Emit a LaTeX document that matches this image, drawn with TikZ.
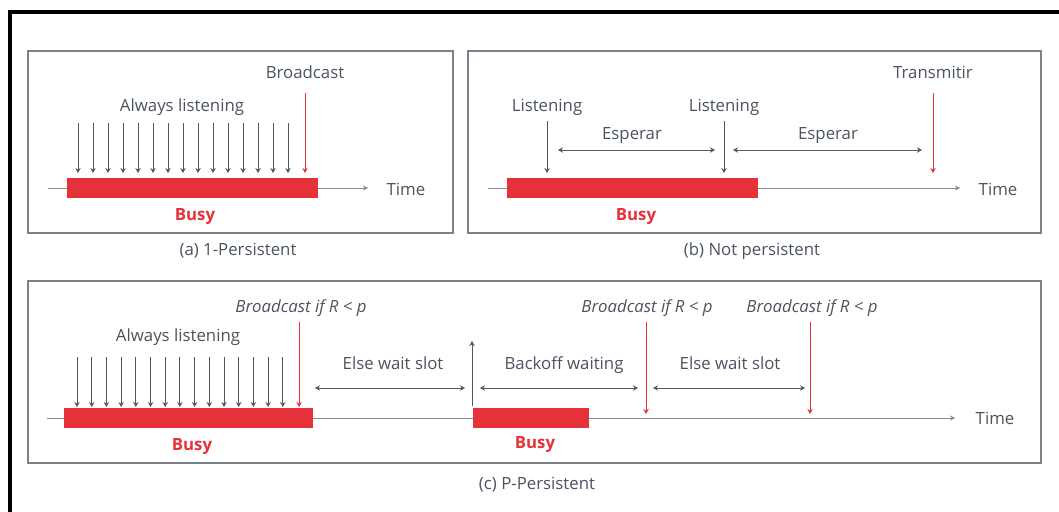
\documentclass[tikz,border=0pt]{standalone}
\usepackage{fontspec}
\setmainfont{Open Sans}
\usetikzlibrary{arrows.meta}
\definecolor{cred}{HTML}{E5323A}
\definecolor{ctext}{HTML}{4A535E}
\definecolor{cbox}{HTML}{7B828B}
\definecolor{carrow}{HTML}{4E5966}
\definecolor{cline}{HTML}{858D96}
\begin{document}
\begin{tikzpicture}[x=1pt,y=-1pt,
  lbl/.style={font=\fontsize{16.8}{20}\selectfont, text=ctext, inner sep=0pt, text height=12pt, text depth=0pt},
  ilbl/.style={lbl, font=\fontsize{16.8}{20}\selectfont\itshape},
  busy/.style={lbl, font=\fontsize{16.8}{20}\selectfont\bfseries, text=cred},
  panelbox/.style={draw=cbox, line width=1.3pt, inner sep=0pt},
  bar/.style={fill=cred, inner sep=0pt, minimum height=20pt},
  tl/.style={draw=cline, line width=1pt, -{Stealth[length=5pt,width=5pt]}},
  garrow/.style={draw=carrow, line width=0.9pt, -{Stealth[length=5pt,width=5.5pt]}},
  rarrow/.style={draw=cred, line width=0.9pt, -{Stealth[length=5pt,width=5.5pt]}},
  darrow/.style={draw=carrow, line width=0.9pt, {Stealth[length=5pt,width=5.5pt]}-{Stealth[length=5pt,width=5.5pt]}}
]
\useasboundingbox (0,0) rectangle (1059,511);
% outer black frame
\coordinate (f0) at (10,530);
\coordinate (f1) at (10,12);
\coordinate (f2) at (1080,12);
\draw[line width=4pt, black] (f0) -- (f1) -- (f2);

% ---------------- panel (a)
\node[panelbox, minimum width=425pt, minimum height=182pt] (pa) at (240.5,142) {};
\coordinate (ta0) at (48,188);
\coordinate (ta1) at (368,188);
\draw[tl] (ta0) -- (ta1);
\node[bar, minimum width=251pt] (ba) at (192.5,188) {};
\node[lbl] (timea) at (406,189) {Time};
\node[busy] (busya) at (195,214) {Busy};
\node[lbl] (alwa) at (182,105) {Always listening};
\node[lbl] (bca) at (305,72) {Broadcast};
\foreach \i in {0,...,14} {
  \coordinate (aas\i) at (78+15*\i,123);
  \coordinate (aae\i) at (78+15*\i,173);
  \draw[garrow] (aas\i) -- (aae\i);
}
\coordinate (ras) at (305,93);
\coordinate (rae) at (305,173);
\draw[rarrow] (ras) -- (rae);
\node[lbl] (capa) at (238,249) {(a) 1-Persistent};

% ---------------- panel (b)
\node[panelbox, minimum width=573pt, minimum height=182pt] (pb) at (754.5,142) {};
\coordinate (tb0) at (488,188);
\coordinate (tb1) at (960,188);
\draw[tl] (tb0) -- (tb1);
\node[bar, minimum width=251pt] (bb) at (632.5,188) {};
\node[lbl] (timeb) at (998,189) {Time};
\node[busy] (busyb) at (636,214) {Busy};
\node[lbl] (lis1) at (547,105) {Listening};
\node[lbl] (lis2) at (724,105) {Listening};
\node[lbl] (esp1) at (632,133) {Esperar};
\node[lbl] (esp2) at (828,133) {Esperar};
\node[lbl] (trans) at (933,72) {Transmitir};
\coordinate (l1s) at (547,121);
\coordinate (l1e) at (547,173);
\coordinate (l2s) at (724,121);
\coordinate (l2e) at (724,173);
\draw[garrow] (l1s) -- (l1e);
\draw[garrow] (l2s) -- (l2e);
\coordinate (e1a) at (558,150);
\coordinate (e1b) at (715,150);
\coordinate (e2a) at (733,150);
\coordinate (e2b) at (922,150);
\draw[darrow] (e1a) -- (e1b);
\draw[darrow] (e2a) -- (e2b);
\coordinate (rbs) at (933,93);
\coordinate (rbe) at (933,173);
\draw[rarrow] (rbs) -- (rbe);
\node[lbl] (capb) at (752,249) {(b) Not persistent};

% ---------------- panel (c)
\node[panelbox, minimum width=1013pt, minimum height=182pt] (pc) at (534.5,372) {};
\coordinate (tc0) at (47,418);
\coordinate (tc1) at (955,418);
\draw[tl] (tc0) -- (tc1);
\node[bar, minimum width=249pt] (bc1) at (188.5,418) {};
\node[bar, minimum width=116pt] (bc2) at (531,418) {};
\node[lbl] (timec) at (995,418) {Time};
\node[busy] (busyc1) at (192,444) {Busy};
\node[busy] (busyc2) at (535,442) {Busy};
\node[lbl] (alwc) at (178,335) {Always listening};
\node[ilbl] (bc1l) at (301,306) {Broadcast if R < p};
\node[ilbl] (bc2l) at (647,306) {Broadcast if R < p};
\node[ilbl] (bc3l) at (812,306) {Broadcast if R < p};
\foreach \i in {0,...,14} {
  \coordinate (cas\i) at (77+14.7*\i,357);
  \coordinate (cae\i) at (77+14.7*\i,407);
  \draw[garrow] (cas\i) -- (cae\i);
}
\coordinate (rc1s) at (299,322);
\coordinate (rc1e) at (299,407);
\draw[rarrow] (rc1s) -- (rc1e);
\coordinate (rc2s) at (646,322);
\coordinate (rc2e) at (646,414);
\draw[rarrow] (rc2s) -- (rc2e);
\coordinate (rc3s) at (810,322);
\coordinate (rc3e) at (810,414);
\draw[rarrow] (rc3s) -- (rc3e);
\node[lbl] (ew1) at (393,363) {Else wait slot};
\node[lbl] (bow) at (564,363) {Backoff waiting};
\node[lbl] (ew2) at (730,363) {Else wait slot};
\coordinate (d1a) at (315,388);
\coordinate (d1b) at (465,388);
\coordinate (d2a) at (480,388);
\coordinate (d2b) at (638,388);
\coordinate (d3a) at (653,388);
\coordinate (d3b) at (805,388);
\draw[darrow] (d1a) -- (d1b);
\draw[darrow] (d2a) -- (d2b);
\draw[darrow] (d3a) -- (d3b);
\coordinate (ups) at (472,406);
\coordinate (upe) at (472,341);
\draw[garrow] (ups) -- (upe);
\node[lbl] (capc) at (537,483) {(c) P-Persistent};
\end{tikzpicture}
\end{document}
